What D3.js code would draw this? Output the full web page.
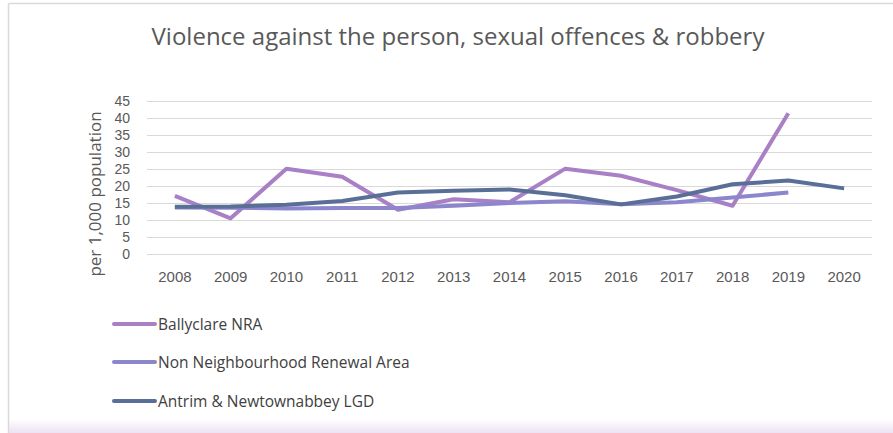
<!DOCTYPE html>
<html><head><meta charset="utf-8">
<script src="https://cdn.jsdelivr.net/npm/d3@7"></script>
<style>body{margin:0;background:#fff}svg{display:block}</style>
</head><body>
<svg id="c" width="893" height="433"></svg>
<script>
const years = ["2008","2009","2010","2011","2012","2013","2014","2015","2016","2017","2018","2019","2020"];
const ballyclare = [17.1,10.5,25.1,22.7,13.0,16.1,15.2,25.1,23.0,18.8,14.2,41.4,null];
const nonNRA = [13.7,13.6,13.4,13.5,13.5,14.2,15.0,15.5,14.6,15.2,16.6,18.1,null];
const lgd = [13.9,14.0,14.5,15.6,18.1,18.6,19.0,17.3,14.6,16.9,20.5,21.6,19.3];
const yTicks = [0,5,10,15,20,25,30,35,40,45];
const seriesNames = ["Ballyclare NRA","Non Neighbourhood Renewal Area","Antrim & Newtownabbey LGD"];
const colors = ["#A97FC6","#8C86CC","#5A6F97"];

const svg = d3.select("#c");
const font = "'Open Sans', 'Liberation Sans', sans-serif";
const tickFont = "'Liberation Sans', Arial, sans-serif";

// background frame
const defs = svg.append("defs");
const g = defs.append("linearGradient").attr("id","bg").attr("x1",0).attr("y1",0).attr("x2",0).attr("y2",1);
g.append("stop").attr("offset","0%").attr("stop-color","#ffffff");
g.append("stop").attr("offset","100%").attr("stop-color","#ece2f4");
svg.append("rect").attr("x",9).attr("y",419).attr("width",884).attr("height",14).attr("fill","url(#bg)");
svg.append("line").attr("x1",8.5).attr("x2",8.5).attr("y1",3.5).attr("y2",433).attr("stroke","#d9d9d9").attr("stroke-width",1.5);
svg.append("line").attr("x1",8.5).attr("x2",893).attr("y1",3.5).attr("y2",3.5).attr("stroke","#d9d9d9").attr("stroke-width",1.5);

const x = d3.scaleBand().domain(years).range([147,872]);
const y = d3.scaleLinear().domain([0,45]).range([254,101]);

// gridlines
svg.append("g").selectAll("line").data(yTicks).join("line")
  .attr("x1",147).attr("x2",872).attr("y1",d=>y(d)+0.5).attr("y2",d=>y(d)+0.5)
  .attr("stroke","#d9d9d9").attr("stroke-width",1);

// y axis labels
const ya = svg.append("g").attr("transform","translate(130,0)")
  .call(d3.axisLeft(y).tickValues(yTicks).tickSize(0).tickPadding(0));
ya.select(".domain").remove();
ya.selectAll("text").attr("font-family",tickFont).attr("font-size",14).attr("fill","#595959");

// x axis labels
const xa = svg.append("g").attr("transform","translate(0,254)")
  .call(d3.axisBottom(x).tickSize(0).tickPadding(17));
xa.select(".domain").remove();
xa.selectAll("text").attr("font-family",tickFont).attr("font-size",15).attr("fill","#595959");

// y title
svg.append("text").attr("transform","translate(101,194) rotate(-90)")
  .attr("text-anchor","middle").attr("font-family",font).attr("font-size",17).attr("fill","#595959")
  .text("per 1,000 population");

// title
svg.append("text").attr("x",458).attr("y",45).attr("text-anchor","middle")
  .attr("font-family",font).attr("font-size",24).attr("fill","#595959")
  .text("Violence against the person, sexual offences & robbery");

// lines
const line = d3.line().defined(d=>d.v!=null).x(d=>x(d.k)+x.bandwidth()/2).y(d=>y(d.v));
[ballyclare,nonNRA,lgd].forEach((s,i)=>{
  svg.append("path").datum(years.map((k,j)=>({k,v:s[j]})))
    .attr("d",line).attr("fill","none").attr("stroke",colors[i]).attr("stroke-width",4)
    .attr("stroke-linejoin","round");
});

// legend
const ly = [324,362,401];
seriesNames.forEach((n,i)=>{
  svg.append("line").attr("x1",114).attr("x2",155).attr("y1",ly[i]).attr("y2",ly[i])
    .attr("stroke",colors[i]).attr("stroke-width",4).attr("stroke-linecap","round");
  svg.append("text").attr("x",158).attr("y",ly[i]+5.5).attr("font-family",font).attr("font-size",15.5)
    .attr("fill","#404040").text(n);
});
</script>
</body></html>
